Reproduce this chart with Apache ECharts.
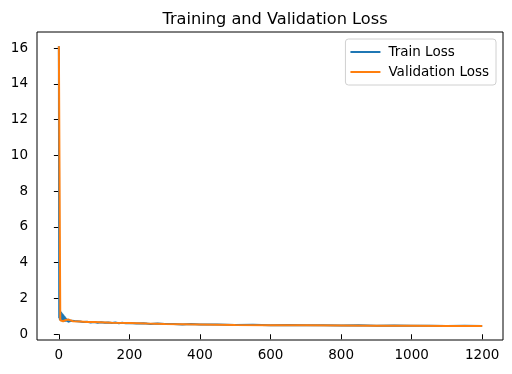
<!DOCTYPE html>
<html><head><meta charset="utf-8">
<script src="https://cdn.jsdelivr.net/npm/echarts@6/dist/echarts.min.js"></script>
<style>html,body{margin:0;padding:0;background:#fff}#c{width:512px;height:374px}</style>
</head><body><div id="c"></div>
<script>
var titleText = 'Training and Validation Loss';
var seriesNames = ['Train Loss', 'Validation Loss'];
var xTicks = [0, 200, 400, 600, 800, 1000, 1200];
var yTicks = [0, 2, 4, 6, 8, 10, 12, 14, 16];

var trainEpochs = [0,1,2,3,4,5,6,7,8,9,10,11,12,13,14,15,16,17,18,19,20,22,24,26,28,30,35,40,45,50,60,70,80,90,100,110,120,130,140,150,160,170,180,190,200,220,240,260,280,300,325,350,375,400,450,500,550,600,650,700,750,800,850,900,950,1000,1050,1100,1150,1200];
var trainLoss = [16.1,0.9,1.35,0.78,1.3,0.8,1.25,0.74,1.2,0.76,1.15,0.72,1.1,0.74,1.05,0.7,1.0,0.72,0.95,0.7,0.88,0.72,0.85,0.7,0.8,0.72,0.76,0.7,0.74,0.69,0.72,0.68,0.7,0.66,0.69,0.64,0.67,0.65,0.66,0.63,0.66,0.62,0.64,0.61,0.63,0.6,0.62,0.58,0.6,0.57,0.58,0.55,0.57,0.54,0.55,0.52,0.53,0.51,0.52,0.5,0.51,0.49,0.5,0.48,0.49,0.47,0.48,0.46,0.47,0.46];

var valEpochs = [0,3,4,8,12,16,20,24,28,32,40,60,80,100,150,200,250,300,400,500,600,700,800,900,1000,1100,1200];
var valLoss = [16.1,16.1,0.78,0.74,0.73,0.72,0.8,0.9,0.82,0.76,0.73,0.71,0.69,0.68,0.65,0.63,0.6,0.58,0.55,0.52,0.51,0.5,0.49,0.48,0.47,0.465,0.46];

function pairs(xs, ys){ return xs.map(function(x,i){ return [x, ys[i]]; }); }

var font = 'DejaVu Sans';
var fs = 13.5;
var chart = echarts.init(document.getElementById('c'));
chart.setOption({
  animation: false,
  title: { text: titleText, left: 270, textAlign: 'center', top: 7,
    textStyle: { fontFamily: font, fontSize: 16.2, fontWeight: 'normal', color: '#000' } },
  grid: { left: 37, right: 9, top: 32, bottom: 34, show: true, borderColor: '#000', borderWidth: 1, containLabel: false },
  legend: {
    orient: 'vertical', right: 16, top: 39,
    data: seriesNames,
    icon: 'rect', itemWidth: 30, itemHeight: 2, itemGap: 6,
    padding: [6, 7, 6, 5],
    borderColor: '#d0d0d0', borderWidth: 1, borderRadius: 3,
    textStyle: { fontFamily: font, fontSize: fs, lineHeight: 14, color: '#000', padding: [0,0,0,3] }
  },
  xAxis: {
    type: 'value', min: -62, max: 1259,
    axisLine: { show: false },
    splitLine: { show: false },
    axisTick: { show: true, inside: false, length: 5, lineStyle: { color: '#000' }, customValues: xTicks },
    axisLabel: { fontFamily: font, fontSize: fs, color: '#000', margin: 8, customValues: xTicks,
      formatter: function(v){ return String(v); } }
  },
  yAxis: {
    type: 'value', min: -0.32, max: 16.9,
    axisLine: { show: false },
    splitLine: { show: false },
    axisTick: { show: true, inside: false, length: 5, lineStyle: { color: '#000' }, customValues: yTicks },
    axisLabel: { fontFamily: font, fontSize: fs, color: '#000', margin: 9, customValues: yTicks,
      formatter: function(v){ return String(v); } }
  },
  series: [
    { name: seriesNames[0], type: 'line', data: pairs(trainEpochs, trainLoss), showSymbol: false, symbol: 'none',
      lineStyle: { color: '#1f77b4', width: 2 }, itemStyle: { color: '#1f77b4' } },
    { name: seriesNames[1], type: 'line', data: pairs(valEpochs, valLoss), showSymbol: false, symbol: 'none',
      lineStyle: { color: '#ff7f0e', width: 2 }, itemStyle: { color: '#ff7f0e' } }
  ]
});
</script></body></html>
